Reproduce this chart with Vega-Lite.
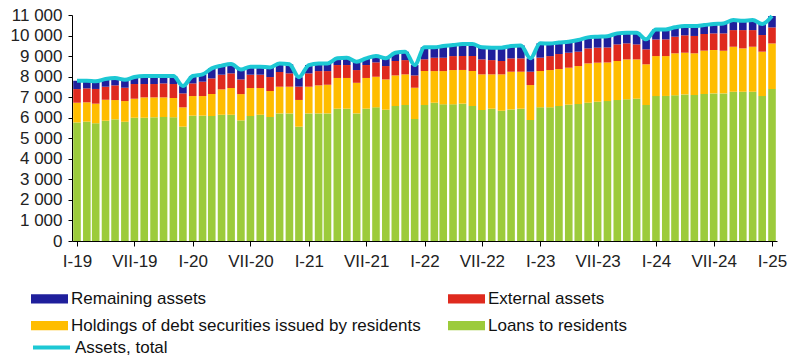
{
  "$schema": "https://vega.github.io/schema/vega-lite/v6.json",
  "width": 705,
  "height": 226,
  "autosize": "none",
  "padding": {"left": 72, "top": 15, "right": 23, "bottom": 119},
  "background": "white",
  "config": {
    "view": {"stroke": null},
    "font": "Liberation Sans",
    "axis": {"grid": false, "domainColor": "#000", "tickColor": "#000", "labelFont": "Liberation Sans", "labelFontSize": 17, "labelColor": "#222", "title": null},
    "legend": {"labelFont": "Liberation Sans", "labelFontSize": 17, "labelColor": "#111", "padding": 0}
  },
  "data": {
    "values": [
      {"date": "2019-01-01", "loans": 5770, "securities": 960, "external": 665, "remaining": 405},
      {"date": "2019-02-01", "loans": 5810, "securities": 940, "external": 680, "remaining": 370},
      {"date": "2019-03-01", "loans": 5730, "securities": 955, "external": 715, "remaining": 370},
      {"date": "2019-04-01", "loans": 5855, "securities": 1020, "external": 635, "remaining": 375},
      {"date": "2019-05-01", "loans": 5920, "securities": 940, "external": 715, "remaining": 355},
      {"date": "2019-06-01", "loans": 5805, "securities": 1005, "external": 650, "remaining": 390},
      {"date": "2019-07-01", "loans": 6000, "securities": 925, "external": 715, "remaining": 340},
      {"date": "2019-08-01", "loans": 6000, "securities": 990, "external": 650, "remaining": 390},
      {"date": "2019-09-01", "loans": 6020, "securities": 970, "external": 650, "remaining": 390},
      {"date": "2019-10-01", "loans": 6035, "securities": 955, "external": 680, "remaining": 360},
      {"date": "2019-11-01", "loans": 6020, "securities": 940, "external": 680, "remaining": 390},
      {"date": "2019-12-01", "loans": 5565, "securities": 940, "external": 680, "remaining": 355},
      {"date": "2020-01-01", "loans": 6100, "securities": 955, "external": 615, "remaining": 360},
      {"date": "2020-02-01", "loans": 6100, "securities": 955, "external": 700, "remaining": 355},
      {"date": "2020-03-01", "loans": 6085, "securities": 1070, "external": 760, "remaining": 485},
      {"date": "2020-04-01", "loans": 6145, "securities": 1235, "external": 715, "remaining": 440},
      {"date": "2020-05-01", "loans": 6145, "securities": 1300, "external": 715, "remaining": 455},
      {"date": "2020-06-01", "loans": 5870, "securities": 1280, "external": 715, "remaining": 485},
      {"date": "2020-07-01", "loans": 6085, "securities": 1360, "external": 650, "remaining": 390},
      {"date": "2020-08-01", "loans": 6145, "securities": 1300, "external": 650, "remaining": 390},
      {"date": "2020-09-01", "loans": 6035, "securities": 1265, "external": 680, "remaining": 470},
      {"date": "2020-10-01", "loans": 6210, "securities": 1300, "external": 715, "remaining": 420},
      {"date": "2020-11-01", "loans": 6210, "securities": 1300, "external": 650, "remaining": 440},
      {"date": "2020-12-01", "loans": 5565, "securities": 1300, "external": 650, "remaining": 455},
      {"date": "2021-01-01", "loans": 6210, "securities": 1300, "external": 650, "remaining": 405},
      {"date": "2021-02-01", "loans": 6210, "securities": 1365, "external": 695, "remaining": 375},
      {"date": "2021-03-01", "loans": 6210, "securities": 1395, "external": 665, "remaining": 375},
      {"date": "2021-04-01", "loans": 6440, "securities": 1495, "external": 630, "remaining": 325},
      {"date": "2021-05-01", "loans": 6440, "securities": 1495, "external": 630, "remaining": 355},
      {"date": "2021-06-01", "loans": 6210, "securities": 1490, "external": 620, "remaining": 405},
      {"date": "2021-07-01", "loans": 6440, "securities": 1495, "external": 630, "remaining": 325},
      {"date": "2021-08-01", "loans": 6505, "securities": 1490, "external": 700, "remaining": 310},
      {"date": "2021-09-01", "loans": 6390, "securities": 1475, "external": 650, "remaining": 375},
      {"date": "2021-10-01", "loans": 6570, "securities": 1490, "external": 700, "remaining": 405},
      {"date": "2021-11-01", "loans": 6620, "securities": 1490, "external": 695, "remaining": 405},
      {"date": "2021-12-01", "loans": 5935, "securities": 1525, "external": 600, "remaining": 505},
      {"date": "2022-01-01", "loans": 6620, "securities": 1655, "external": 570, "remaining": 585},
      {"date": "2022-02-01", "loans": 6730, "securities": 1540, "external": 650, "remaining": 505},
      {"date": "2022-03-01", "loans": 6650, "securities": 1620, "external": 650, "remaining": 570},
      {"date": "2022-04-01", "loans": 6650, "securities": 1670, "external": 680, "remaining": 535},
      {"date": "2022-05-01", "loans": 6685, "securities": 1640, "external": 680, "remaining": 585},
      {"date": "2022-06-01", "loans": 6570, "securities": 1705, "external": 730, "remaining": 585},
      {"date": "2022-07-01", "loans": 6375, "securities": 1735, "external": 730, "remaining": 585},
      {"date": "2022-08-01", "loans": 6440, "securities": 1670, "external": 695, "remaining": 600},
      {"date": "2022-09-01", "loans": 6340, "securities": 1770, "external": 650, "remaining": 650},
      {"date": "2022-10-01", "loans": 6405, "securities": 1835, "external": 650, "remaining": 600},
      {"date": "2022-11-01", "loans": 6440, "securities": 1800, "external": 650, "remaining": 630},
      {"date": "2022-12-01", "loans": 5890, "securities": 1700, "external": 650, "remaining": 650},
      {"date": "2023-01-01", "loans": 6505, "securities": 1770, "external": 650, "remaining": 695},
      {"date": "2023-02-01", "loans": 6505, "securities": 1815, "external": 680, "remaining": 615},
      {"date": "2023-03-01", "loans": 6570, "securities": 1800, "external": 730, "remaining": 565},
      {"date": "2023-04-01", "loans": 6635, "securities": 1800, "external": 730, "remaining": 535},
      {"date": "2023-05-01", "loans": 6665, "securities": 1850, "external": 700, "remaining": 570},
      {"date": "2023-06-01", "loans": 6730, "securities": 1915, "external": 730, "remaining": 535},
      {"date": "2023-07-01", "loans": 6780, "securities": 1900, "external": 730, "remaining": 535},
      {"date": "2023-08-01", "loans": 6810, "securities": 1880, "external": 730, "remaining": 550},
      {"date": "2023-09-01", "loans": 6860, "securities": 1900, "external": 810, "remaining": 535},
      {"date": "2023-10-01", "loans": 6895, "securities": 1945, "external": 780, "remaining": 520},
      {"date": "2023-11-01", "loans": 6925, "securities": 1915, "external": 730, "remaining": 570},
      {"date": "2023-12-01", "loans": 6620, "securities": 1980, "external": 730, "remaining": 485},
      {"date": "2024-01-01", "loans": 7055, "securities": 1945, "external": 810, "remaining": 490},
      {"date": "2024-02-01", "loans": 7060, "securities": 1940, "external": 815, "remaining": 485},
      {"date": "2024-03-01", "loans": 7090, "securities": 2045, "external": 810, "remaining": 455},
      {"date": "2024-04-01", "loans": 7135, "securities": 2030, "external": 845, "remaining": 455},
      {"date": "2024-05-01", "loans": 7105, "securities": 2030, "external": 845, "remaining": 485},
      {"date": "2024-06-01", "loans": 7155, "securities": 2110, "external": 810, "remaining": 435},
      {"date": "2024-07-01", "loans": 7185, "securities": 2110, "external": 810, "remaining": 455},
      {"date": "2024-08-01", "loans": 7185, "securities": 2075, "external": 845, "remaining": 485},
      {"date": "2024-09-01", "loans": 7265, "securities": 2190, "external": 810, "remaining": 490},
      {"date": "2024-10-01", "loans": 7265, "securities": 2110, "external": 890, "remaining": 455},
      {"date": "2024-11-01", "loans": 7265, "securities": 2190, "external": 810, "remaining": 490},
      {"date": "2024-12-01", "loans": 7055, "securities": 2160, "external": 810, "remaining": 535},
      {"date": "2025-01-01", "loans": 7395, "securities": 2220, "external": 780, "remaining": 555}
    ]
  },
  "transform": [
    {"fold": ["loans", "securities", "external", "remaining"], "as": ["series", "value"]},
    {"calculate": "indexof(['loans','securities','external','remaining'], datum.series)", "as": "ord"}
  ],
  "encoding": {
    "x": {
      "field": "date",
      "type": "temporal",
      "scale": {
        "type": "utc",
        "domain": [{"year": 2019, "month": 1, "date": 1, "utc": true}, {"year": 2025, "month": 1, "date": 1, "utc": true}],
        "nice": false
      },
      "axis": {
        "values": [
          {"year": 2019, "month": 1, "date": 1, "utc": true},
          {"year": 2019, "month": 7, "date": 1, "utc": true},
          {"year": 2020, "month": 1, "date": 1, "utc": true},
          {"year": 2020, "month": 7, "date": 1, "utc": true},
          {"year": 2021, "month": 1, "date": 1, "utc": true},
          {"year": 2021, "month": 7, "date": 1, "utc": true},
          {"year": 2022, "month": 1, "date": 1, "utc": true},
          {"year": 2022, "month": 7, "date": 1, "utc": true},
          {"year": 2023, "month": 1, "date": 1, "utc": true},
          {"year": 2023, "month": 7, "date": 1, "utc": true},
          {"year": 2024, "month": 1, "date": 1, "utc": true},
          {"year": 2024, "month": 7, "date": 1, "utc": true},
          {"year": 2025, "month": 1, "date": 1, "utc": true}
        ],
        "labelExpr": "['I','II','III','IV','V','VI','VII','VIII','IX','X','XI','XII'][utcmonth(datum.value)] + '-' + utcFormat(datum.value, '%y')",
        "tickSize": 5,
        "labelPadding": 7,
        "labelFlush": false,
        "labelOverlap": false
      }
    }
  },
  "layer": [
    {
      "mark": {"type": "bar", "size": 7.6, "clip": true},
      "encoding": {
        "y": {
          "field": "value",
          "type": "quantitative",
          "stack": "zero",
          "scale": {"domain": [0, 11000], "nice": false},
          "axis": {
            "values": [0, 1000, 2000, 3000, 4000, 5000, 6000, 7000, 8000, 9000, 10000, 11000],
            "labelExpr": "replace(format(datum.value, ','), ',', ' ')",
            "labelOverlap": false,
            "labelFlush": false,
            "tickSize": 4,
            "labelPadding": 6
          }
        },
        "order": {"field": "ord", "type": "quantitative"},
        "fill": {
          "field": "series",
          "type": "nominal",
          "scale": {
            "domain": ["remaining", "securities", "external", "loans"],
            "range": ["#1F1F9C", "#FFBD00", "#DF2A1E", "#9CCB3B"]
          },
          "legend": {
            "title": null,
            "orient": "none",
            "legendX": -41,
            "legendY": 265,
            "columns": 2,
            "columnPadding": 27,
            "rowPadding": -4.5,
            "symbolType": "M-1,-0.25H1V0.25H-1Z",
            "symbolSize": 1369,
            "symbolStrokeWidth": 0,
            "labelOffset": 3,
            "labelLimit": 500,
            "labelExpr": "datum.label == 'remaining' ? 'Remaining assets' : datum.label == 'external' ? 'External assets' : datum.label == 'securities' ? 'Holdings of debt securities issued by residents' : 'Loans to residents'"
          }
        }
      }
    },
    {
      "mark": {"type": "line", "strokeWidth": 4, "interpolate": "monotone"},
      "encoding": {
        "y": {
          "aggregate": "sum",
          "field": "value",
          "type": "quantitative",
          "axis": {
            "values": [0, 1000, 2000, 3000, 4000, 5000, 6000, 7000, 8000, 9000, 10000, 11000],
            "labelExpr": "replace(format(datum.value, ','), ',', ' ')",
            "labelOverlap": false,
            "labelFlush": false,
            "tickSize": 4,
            "labelPadding": 6
          }
        },
        "stroke": {
          "datum": "Assets, total",
          "scale": {"domain": ["Assets, total"], "range": ["#1DC8D4"]},
          "legend": {
            "title": null,
            "orient": "none",
            "legendX": -41,
            "legendY": 312,
            "symbolType": "stroke",
            "symbolSize": 1369,
            "symbolStrokeWidth": 4,
            "labelOffset": 3
          }
        }
      }
    }
  ]
}
